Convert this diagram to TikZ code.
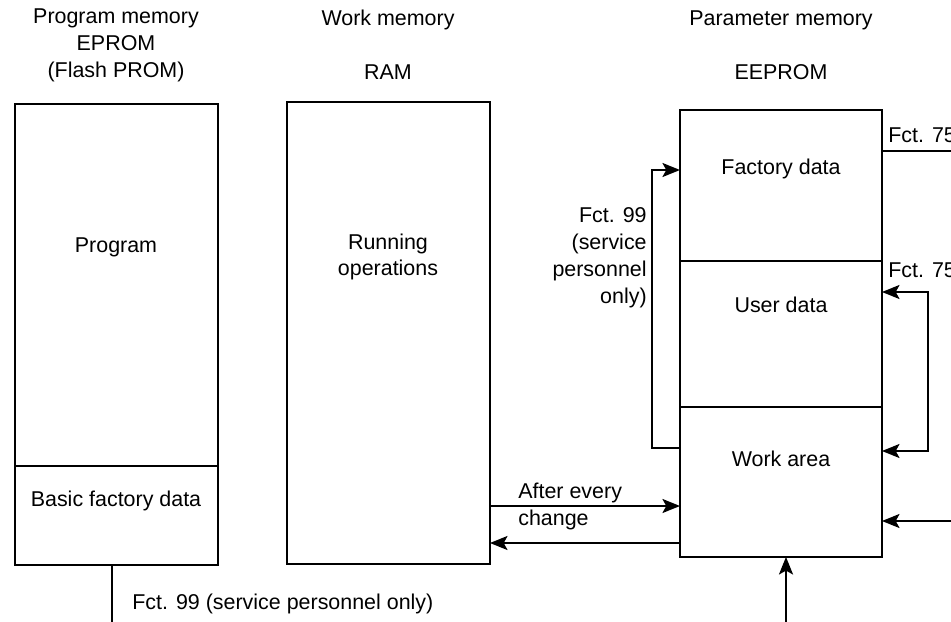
\documentclass[tikz,border=0pt]{standalone}
\usepackage{fontspec}
\setmainfont{Liberation Sans}
\usetikzlibrary{positioning, arrows.meta}

\begin{document}
\begin{tikzpicture}[
  x=0.02cm, y=-0.02cm,
  font=\fontsize{12.2}{15.3}\selectfont,
  memcell/.style={
    draw,
    line width=1.1pt,
    inner sep=0pt,
    outer sep=0pt,
    minimum width=4.06cm
  },
  lbl/.style={inner sep=0pt, align=center},
  flow/.style={line width=1.1pt},
  >={Stealth[length=10pt, width=8pt, inset=2.2pt]}
]
\useasboundingbox (0,0) rectangle (951,622);

% Program memory
\node[lbl] (progHead) at (116,45) {Program memory\\EPROM\\(Flash PROM)};
\node[memcell, anchor=north west, minimum height=7.24cm] (prog) at (15,104) {};
\node[memcell, below=0pt of prog, minimum height=1.98cm] (basic) {};
\node[lbl] (progTxt) at (116,247) {Program};
\node[lbl] (basicTxt) at (116,501) {Basic factory data};

% Work memory
\node[lbl] (ramHead) at (388,45) {Work memory\\ \\RAM};
\node[memcell, anchor=north west, minimum height=9.24cm] (ram) at (287,102) {};
\node[lbl] (ramTxt) at (388,257) {Running\\operations};

% Parameter memory
\node[lbl] (eeHead) at (781,45) {Parameter memory\\ \\EEPROM};
\node[memcell, anchor=north west, minimum width=4.04cm, minimum height=3.02cm] (factory) at (680,110) {};
\node[memcell, below=0pt of factory, minimum width=4.04cm, minimum height=2.92cm] (user) {};
\node[memcell, below=0pt of user, minimum width=4.04cm, minimum height=3.0cm] (work) {};
\node[lbl] (factoryTxt) at (781,169) {Factory data};
\node[lbl] (userTxt) at (781,305) {User data};
\node[lbl] (workTxt) at (781,459) {Work area};

% Helper points
\coordinate (f75top) at (970,151);
\coordinate (loopTop) at (928,292);
\coordinate (loopBot) at (928,451);
\coordinate (fromRight) at (970,521);
\coordinate (fromBelow) at (786,640);
\coordinate (toWork) at (0,506);
\coordinate (toRam) at (0,543);
\coordinate (f99bot) at (652,448);
\coordinate (f99top) at (652,170);
\coordinate (f99down) at (112,640);

% Connections
\draw[flow] (factory.east |- f75top) -- (f75top);
\node[anchor=base west, inner sep=0pt] (f75a) at (888,142) {Fct. 75};
\node[anchor=base west, inner sep=0pt] (f75b) at (888,277) {Fct. 75};
\draw[flow, <->] (user.east |- loopTop) -- (loopTop) -- (loopBot) -- (work.east |- loopBot);
\draw[flow, ->] (fromRight) -- (work.east |- fromRight);
\draw[flow, ->] (fromBelow) -- (work.south -| fromBelow);

\draw[flow, ->] (ram.east |- toWork) -- (work.west |- toWork);
\node[anchor=west, inner sep=0pt, align=left] (afterTxt) at (518,506.5) {After every\\change};
\draw[flow, ->] (work.west |- toRam) -- (ram.east |- toRam);

\draw[flow, ->] (work.west |- f99bot) -- (f99bot) -- (f99top) -- (factory.west |- f99top);
\node[anchor=east, inner sep=0pt, align=right] (f99Txt) at (647,257.5) {Fct. 99\\(service\\personnel\\only)};

\draw[flow] (basic.south -| f99down) -- (f99down);
\node[anchor=west, inner sep=0pt] (f99low) at (132,604) {Fct. 99 (service personnel only)};

\end{tikzpicture}
\end{document}
